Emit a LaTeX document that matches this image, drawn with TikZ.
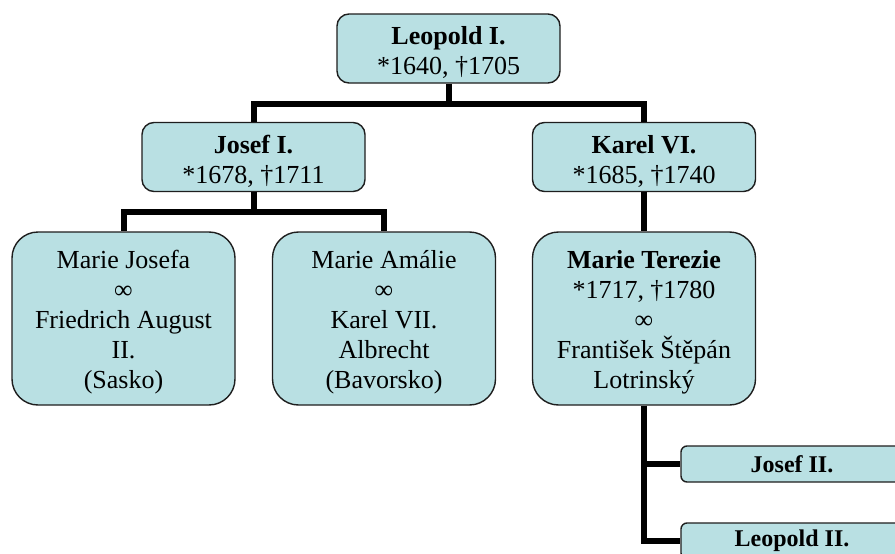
\documentclass[tikz,border=0pt]{standalone}
\usepackage{fontspec}
\setmainfont{Liberation Serif}
\definecolor{boxfill}{HTML}{B9E0E3}
\definecolor{boxline}{HTML}{1E1E1E}
\newcommand{\lowtext}{\rule{0pt}{26pt}}
\begin{document}
\begin{tikzpicture}[x=1pt,y=-1pt,
  famil/.style={draw=boxline, line width=1.4pt, fill=boxfill, align=center, inner sep=0pt,
    font=\fontsize{26}{30}\selectfont},
  gen1/.style={famil, minimum width=223pt, minimum height=69pt, rounded corners=12pt},
  gen3/.style={famil, minimum width=223pt, minimum height=173pt, rounded corners=26pt},
  gen4/.style={famil, minimum width=222pt, minimum height=36pt, rounded corners=6pt,
    font=\fontsize{24}{28}\selectfont\bfseries},
  conn/.style={line width=6pt, black}]
\useasboundingbox (0,0) rectangle (895,554);
\clip (0,0) rectangle (895,554);
\fill[white] (0,0) rectangle (895,554);

\node[gen1] (leo1) at (448.5,48.5) {\lowtext\textbf{Leopold I.}\\{*}1640, †1705};
\node[gen1] (jos1) at (253.5,157) {\lowtext\textbf{Josef I.}\\{*}1678, †1711};
\node[gen1] (kar6) at (644,157) {\lowtext\textbf{Karel VI.}\\{*}1685, †1740};

\node[gen3] (mjos) at (123.5,318.5) {\lowtext Marie Josefa\\∞\\Friedrich August\\II.\\(Sasko)};
\node[gen3] (mam) at (384,318.5) {\lowtext Marie Amálie\\∞\\Karel VII.\\Albrecht\\(Bavorsko)};
\node[gen3] (mter) at (644,318.5) {\lowtext\textbf{Marie Terezie}\\{*}1717, †1780\\∞\\František Štěpán\\Lotrinský};

\node[gen4] (jos2) at (792,464) {Josef II.};
\node[gen4] (leo2) at (792,541) {Leopold II.};

\draw[conn] (leo1.south) -- ++(0,20) -| (jos1.north);
\draw[conn] (leo1.south) ++(0,20) -| (kar6.north);
\draw[conn] (jos1.south) -- ++(0,20) -| (mjos.north);
\draw[conn] (jos1.south) ++(0,20) -| (mam.north);
\draw[conn] (kar6.south) -- (mter.north);
\draw[conn] (mter.south) |- (jos2.west);
\draw[conn] (mter.south) |- (leo2.west);
\end{tikzpicture}
\end{document}
